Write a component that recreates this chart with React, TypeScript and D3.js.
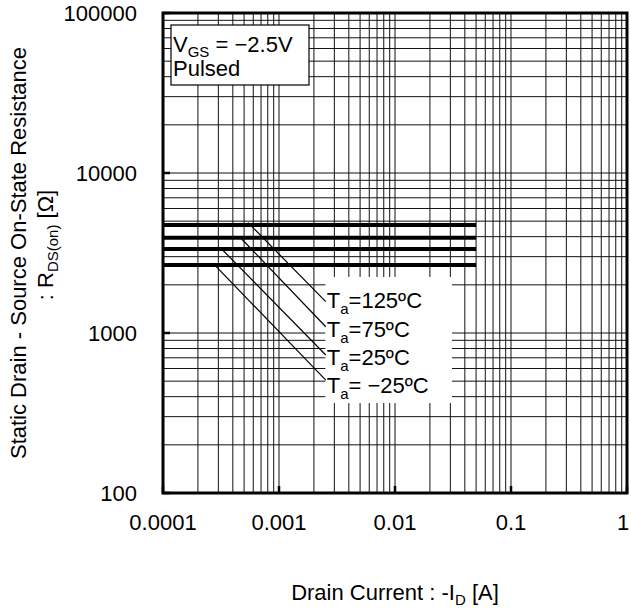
import React from 'react'
import * as d3 from 'd3'

// axis ticks
const xDecades = [0.0001, 0.001, 0.01, 0.1, 1]
const xTickLabels = ['0.0001', '0.001', '0.01', '0.1', '1']
const yDecades = [100, 1000, 10000, 100000]
const yTickLabels = ['100', '1000', '10000', '100000']

// series: flat R_DS(on) vs drain current, one per ambient temperature
const temps = ['125', '75', '25', '\u221225']
const tempPrefix = ['=', '=', '=', '= ']
const currents = [0.0001, 0.05]
const rdsOn = [4730, 3940, 3350, 2660]

// leader lines: [start current, start R, end current, end R]
const leaderStart = [[0.00054, 4900], [0.000477, 3870], [0.000327, 3300], [0.000285, 2620]]
const leaderEnd = [[0.00253, 1570], [0.00253, 1094], [0.00253, 729], [0.00253, 508]]
const labelBaseR = [1432, 944, 631, 422]
// white box behind the temperature labels
const labelBox = { x0: 0.00251, x1: 0.031, r0: 2240, r1: 365 }

const W = 631
const H = 611
const margin = { top: 13, right: 4, bottom: 118, left: 163 }
const font = '"Liberation Sans", Arial, Helvetica, sans-serif'

const App = () => {
  const x = d3.scaleLog().domain([0.0001, 1]).range([margin.left, W - margin.right])
  const y = d3.scaleLog().domain([100, 100000]).range([H - margin.bottom, margin.top])
  const [x0, x1] = x.range()
  const [y0, y1] = y.range()

  const line = d3.line<number>().x((d) => x(d))
  const xGrid = x.ticks()
  const yGrid = y.ticks()

  return (
    <svg width={W} height={H} style={{ position: 'absolute', left: 0, top: 0, background: '#fff' }} fontFamily={font}>
      {/* grid */}
      {xGrid.map((d, i) => (
        <line key={'xg' + i} x1={x(d)} x2={x(d)} y1={y1} y2={y0} stroke="#111" strokeWidth={1} />
      ))}
      {yGrid.map((d, i) => (
        <line key={'yg' + i} x1={x0} x2={x1} y1={y(d)} y2={y(d)} stroke="#111" strokeWidth={1} />
      ))}

      {/* decade tick marks */}
      {xDecades.map((d, i) => (
        <line key={'xt' + i} x1={x(d)} x2={x(d)} y1={y0} y2={y0 - 7} stroke="#000" strokeWidth={2.5} />
      ))}
      {yDecades.map((d, i) => (
        <line key={'yt' + i} x1={x0} x2={x0 + 7} y1={y(d)} y2={y(d)} stroke="#000" strokeWidth={2.5} />
      ))}

      {/* label box */}
      <rect
        x={x(labelBox.x0)}
        y={y(labelBox.r0)}
        width={x(labelBox.x1) - x(labelBox.x0)}
        height={y(labelBox.r1) - y(labelBox.r0)}
        fill="#fff"
      />

      {/* series */}
      {rdsOn.map((r, i) => (
        <path key={'s' + i} d={line.y(() => y(r))(currents) || ''} stroke="#000" strokeWidth={4} fill="none" />
      ))}

      {/* leader lines and labels */}
      {temps.map((t, i) => (
        <g key={'l' + i}>
          <line
            x1={x(leaderStart[i][0])}
            y1={y(leaderStart[i][1])}
            x2={x(leaderEnd[i][0])}
            y2={y(leaderEnd[i][1])}
            stroke="#000"
            strokeWidth={1.2}
          />
          <text x={x(leaderEnd[i][0]) + 1} y={y(labelBaseR[i])} fontSize={22}>
            T<tspan fontSize={15} dy={6}>a</tspan>
            <tspan dy={-6}>{tempPrefix[i] + t + '\u00baC'}</tspan>
          </text>
        </g>
      ))}

      {/* condition box */}
      <rect x={x0 + 8} y={y1 + 12} width={138} height={60} fill="#fff" stroke="#000" strokeWidth={1.2} />
      <text x={x0 + 10} y={y1 + 39} fontSize={22}>
        V<tspan fontSize={15} dy={5}>GS</tspan>
        <tspan dy={-5}>{' = \u22122.5V'}</tspan>
      </text>
      <text x={x0 + 10} y={y1 + 63} fontSize={22}>Pulsed</text>

      {/* frame */}
      <rect x={x0} y={y1} width={x1 - x0} height={y0 - y1} fill="none" stroke="#000" strokeWidth={3} />

      {/* tick labels */}
      {xDecades.map((d, i) => (
        <text key={'xl' + i} x={Math.min(x(d), W - 8)} y={y0 + 37} fontSize={22} textAnchor="middle">
          {xTickLabels[i]}
        </text>
      ))}
      {yDecades.map((d, i) => (
        <text key={'yl' + i} x={x0 - 26} y={y(d) + 8} fontSize={22} textAnchor="end">
          {yTickLabels[i]}
        </text>
      ))}

      {/* axis titles */}
      <text x={(x0 + x1) / 2} y={600} fontSize={22} textAnchor="middle">
        Drain Current : -I<tspan fontSize={15} dy={5}>D</tspan>
        <tspan dy={-5}> [A]</tspan>
      </text>
      <g transform={`translate(26, ${(y0 + y1) / 2}) rotate(-90)`}>
        <text x={0} y={0} fontSize={22} textAnchor="middle">
          Static Drain - Source On-State Resistance
        </text>
      </g>
      <g transform={`translate(53, ${(y0 + y1) / 2 - 8}) rotate(-90)`}>
        <text x={0} y={0} fontSize={22} textAnchor="middle">
          : R<tspan fontSize={15} dy={5}>DS(on)</tspan>
          <tspan dy={-5}> [Ω]</tspan>
        </text>
      </g>
    </svg>
  )
}

export default App
